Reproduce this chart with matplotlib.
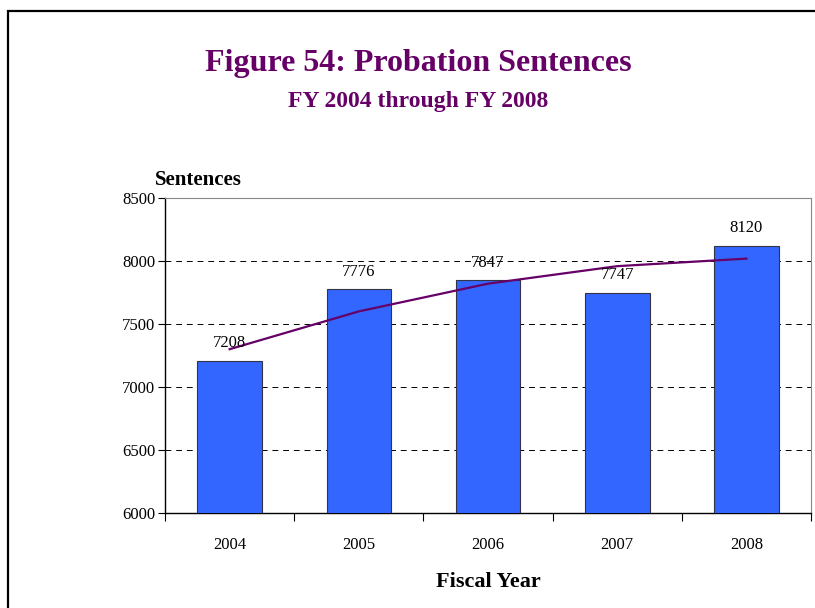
import matplotlib
matplotlib.use("Agg")
import matplotlib.pyplot as plt
from matplotlib.patches import Rectangle
from matplotlib.ticker import FixedLocator

# --- datos ---
years = ["2004", "2005", "2006", "2007", "2008"]
sentences = [7208, 7776, 7847, 7747, 8120]
# linea de tendencia (polinomica)
trend = [7300, 7600, 7820, 7959, 8019]
y_ticks = [6000, 6500, 7000, 7500, 8000, 8500]

W, H = 815, 608
purple = "#660066"
bar_color = "#3366FF"

plt.rcParams["font.family"] = ["Liberation Serif", "DejaVu Serif"]

fig = plt.figure(figsize=(W / 100, H / 100), dpi=100)

# marco exterior de la figura
fig.patches.append(Rectangle((8 / W, -0.05), 1.2, 1 - 11 / H + 0.05,
                             transform=fig.transFigure, fill=False,
                             edgecolor="black", linewidth=1.6))

ax = fig.add_axes([165 / W, (H - 513) / H, (811 - 165) / W, (513 - 198) / H])

x = list(range(len(years)))
ax.bar(x, sentences, width=0.5, bottom=0, color=bar_color,
       edgecolor="#333344", linewidth=0.8, zorder=3)
ax.plot(x, trend, color=purple, linewidth=1.6, zorder=4)

for xi, v in zip(x, sentences):
    ax.annotate(str(v), (xi, v), xytext=(0, 7), textcoords="offset points",
                ha="center", va="bottom", fontsize=12, zorder=5)

ax.set_xlim(-0.5, len(years) - 0.5)
ax.set_ylim(6000, 8500)
ax.set_yticks(y_ticks)
ax.set_yticklabels([str(t) for t in y_ticks], fontsize=12)

# ticks entre categorias, etiquetas centradas
ax.xaxis.set_major_locator(FixedLocator([i - 0.5 for i in range(len(years) + 1)]))
ax.xaxis.set_minor_locator(FixedLocator(x))
ax.set_xticklabels([""] * (len(years) + 1))
ax.set_xticklabels(years, minor=True, fontsize=12)
ax.tick_params(axis="x", which="major", direction="out", length=6, width=0.8)
ax.tick_params(axis="x", which="minor", length=0, pad=17)
ax.tick_params(axis="y", direction="out", length=5, width=0.8, pad=2)

ax.grid(axis="y", linestyle=(0, (6, 5)), color="black", linewidth=0.7, zorder=0)
ax.set_axisbelow(True)

for s in ["top", "right"]:
    ax.spines[s].set_color("#888888")
    ax.spines[s].set_linewidth(0.8)
for s in ["left", "bottom"]:
    ax.spines[s].set_linewidth(1.0)

# titulos
fig.text(418 / W, 1 - 64 / H, "Figure 54: Probation Sentences", ha="center",
         va="center", fontsize=23, fontweight="bold", color=purple)
fig.text(418 / W, 1 - 102 / H, "FY 2004 through FY 2008", ha="center",
         va="center", fontsize=17, fontweight="bold", color=purple)
fig.text(155 / W, 1 - 180 / H, "Sentences", ha="left", va="center",
         fontsize=15, fontweight="bold")
fig.text(488 / W, 1 - 582 / H, "Fiscal Year", ha="center", va="center",
         fontsize=16, fontweight="bold")

fig.savefig("out.png", dpi=100)
